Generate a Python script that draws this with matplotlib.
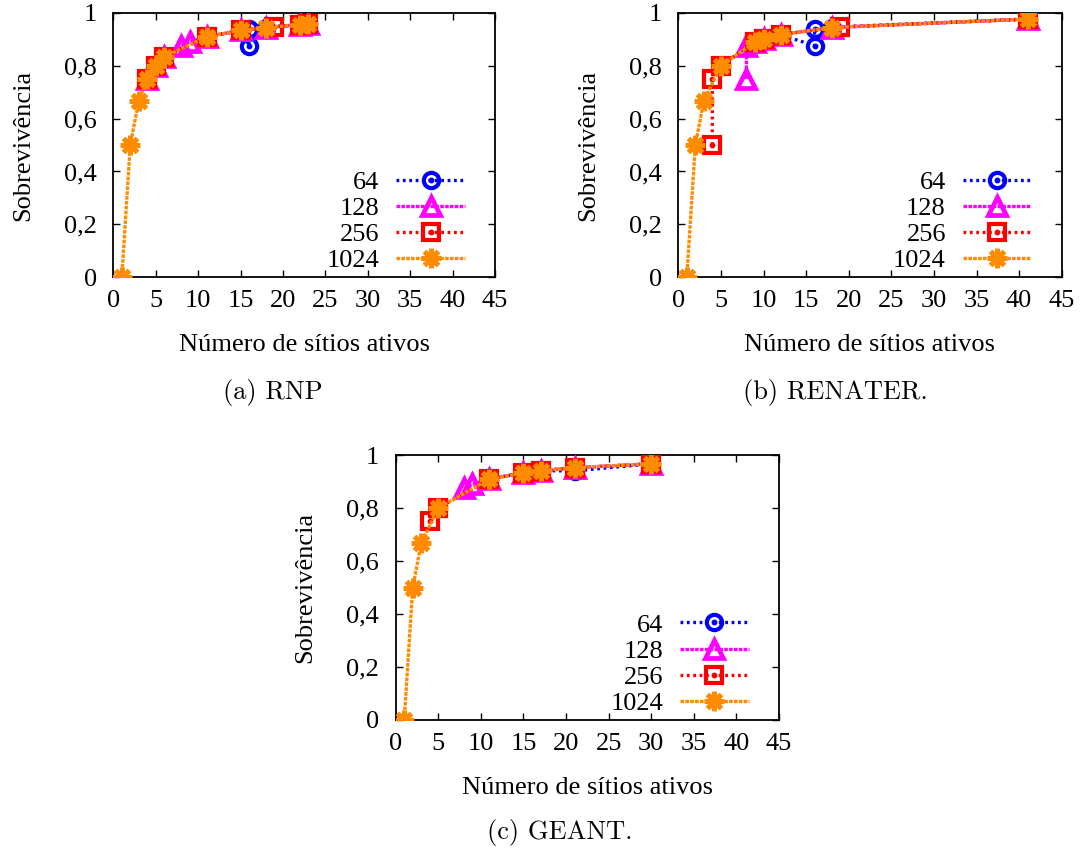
import matplotlib
matplotlib.use('Agg')
import matplotlib.pyplot as plt
from matplotlib.legend_handler import HandlerTuple

plt.rcParams['lines.scale_dashes'] = False
plt.rcParams['font.family'] = ['Liberation Serif', 'DejaVu Serif']

# ---------------- data ----------------
series_labels = ['64', '128', '256', '1024']
x_ticks = [0, 5, 10, 15, 20, 25, 30, 35, 40, 45]
y_ticks = [0, 0.2, 0.4, 0.6, 0.8, 1.0]
y_tick_labels = ['0', '0,2', '0,4', '0,6', '0,8', '1']

# (a) RNP
rnp_x_64 = [4, 5, 6, 11, 15, 16, 16, 18, 22, 23]
rnp_y_64 = [0.75, 0.80, 0.833, 0.909, 0.933, 0.875, 0.9375, 0.944, 0.955, 0.957]
rnp_x_128 = [4, 5, 6, 8, 9, 11, 15, 18, 22, 23]
rnp_y_128 = [0.75, 0.80, 0.833, 0.875, 0.889, 0.909, 0.933, 0.944, 0.955, 0.957]
rnp_x_256 = [4, 5, 6, 11, 15, 19, 22, 23]
rnp_y_256 = [0.75, 0.80, 0.833, 0.909, 0.933, 0.947, 0.955, 0.957]
rnp_x_1024 = [1, 2, 3, 4, 5, 6, 11, 15, 18, 22, 23]
rnp_y_1024 = [0.0, 0.5, 0.667, 0.75, 0.80, 0.833, 0.909, 0.933, 0.944, 0.955, 0.957]

# (b) RENATER
ren_x_64 = [5, 9, 10, 12, 16, 16, 18, 41]
ren_y_64 = [0.80, 0.889, 0.90, 0.917, 0.875, 0.9375, 0.944, 0.976]
ren_x_128 = [8, 8, 9, 10, 12, 18, 41]
ren_y_128 = [0.75, 0.875, 0.889, 0.90, 0.917, 0.944, 0.976]
ren_x_256 = [4, 4, 5, 9, 10, 12, 19, 41]
ren_y_256 = [0.50, 0.75, 0.80, 0.889, 0.90, 0.917, 0.947, 0.976]
ren_x_1024 = [1, 2, 3, 5, 9, 10, 12, 18, 41]
ren_y_1024 = [0.0, 0.5, 0.667, 0.80, 0.889, 0.90, 0.917, 0.944, 0.976]

# (c) GEANT
gea_x_64 = [11, 15, 17, 21, 30]
gea_y_64 = [0.909, 0.933, 0.941, 0.940, 0.967]
gea_x_128 = [8, 9, 11, 15, 17, 21, 30]
gea_y_128 = [0.875, 0.889, 0.909, 0.933, 0.941, 0.952, 0.967]
gea_x_256 = [4, 5, 11, 15, 17, 21, 30]
gea_y_256 = [0.75, 0.80, 0.909, 0.933, 0.941, 0.952, 0.967]
gea_x_1024 = [1, 2, 3, 5, 11, 15, 17, 21, 30]
gea_y_1024 = [0.0, 0.5, 0.667, 0.80, 0.909, 0.933, 0.941, 0.952, 0.967]

panels = [
    ('(a) RNP', [(rnp_x_64, rnp_y_64), (rnp_x_128, rnp_y_128),
                 (rnp_x_256, rnp_y_256), (rnp_x_1024, rnp_y_1024)]),
    ('(b) RENATER.', [(ren_x_64, ren_y_64), (ren_x_128, ren_y_128),
                      (ren_x_256, ren_y_256), (ren_x_1024, ren_y_1024)]),
    ('(c) GEANT.', [(gea_x_64, gea_y_64), (gea_x_128, gea_y_128),
                    (gea_x_256, gea_y_256), (gea_x_1024, gea_y_1024)]),
]

# ---------------- styling ----------------
W, H = 1082, 852
colors = ['#0000ff', '#ff00ff', '#ff0000', '#ff8c00']
markers = ['o', '^', 's', (8, 2, 0)]
msizes = [11, 12.5, 11.5, 14]
mews = [3.0, 3.4, 3.0, 3.6]
dashes = [(2.0, 2.6), (2.6, 0.9), (2.0, 2.6), (2.6, 0.9)]
center_dot = [True, False, True, False]

# axes boxes in pixels: left, top, right, bottom
boxes = [(113.3, 12.7, 495.0, 277.3),
         (678.3, 12.7, 1061.7, 277.3),
         (395.7, 455.0, 779.0, 720.0)]
captions_xy = [(273, 392), (835, 392), (560, 833)]

fig = plt.figure(figsize=(W / 100, H / 100), dpi=100)
FS = 19

for (caption, data), (l, t, r, b), (cx, cy) in zip(panels, boxes, captions_xy):
    ax = fig.add_axes([l / W, 1 - b / H, (r - l) / W, (b - t) / H])
    handles = []
    for i, (xs, ys) in enumerate(data):
        ln, = ax.plot(xs, ys, color=colors[i], lw=2.4, dashes=dashes[i],
                      marker=markers[i], ms=msizes[i], mew=mews[i],
                      mfc='none' if i < 3 else colors[i], mec=colors[i],
                      zorder=3 + i)
        if center_dot[i]:
            dot, = ax.plot(xs, ys, ls='none', marker='o', ms=3.2,
                           color=colors[i], zorder=3 + i)
            handles.append((ln, dot))
        else:
            handles.append(ln)
    ax.set_xlim(0, 45)
    ax.set_ylim(0, 1)
    ax.set_xticks(x_ticks)
    ax.set_xticklabels([str(v) for v in x_ticks])
    ax.set_yticks(y_ticks)
    ax.set_yticklabels(y_tick_labels)
    ax.tick_params(direction='in', length=5, width=1, top=True, right=True,
                   labelsize=FS, colors='black')
    ax.tick_params(axis='x', pad=9)
    ax.tick_params(axis='y', pad=12)
    for sp in ax.spines.values():
        sp.set_linewidth(1.3)
    ax.set_xlabel('Número de sítios ativos', fontsize=FS)
    ax.set_ylabel('Sobrevivência', fontsize=FS)
    ax.xaxis.set_label_coords(0.5, -67.7 / (b - t))
    ax.xaxis.label.set_va('center')
    ax.yaxis.set_label_coords((23 - 113.3) / (r - l), 0.5)
    ax.yaxis.label.set_va('center')
    ax.legend(handles, series_labels, loc='lower right',
              bbox_to_anchor=(0.921, 0.019), frameon=False,
              markerfirst=False, fontsize=FS, handlelength=2.6,
              handletextpad=0.64, labelspacing=0.1, borderpad=0,
              borderaxespad=0,
              handler_map={tuple: HandlerTuple(ndivide=1)})
    fig.text(cx / W, 1 - cy / H, caption, fontsize=19, family='cmr10',
             ha='center', va='center')

fig.savefig('out.png', dpi=100)
